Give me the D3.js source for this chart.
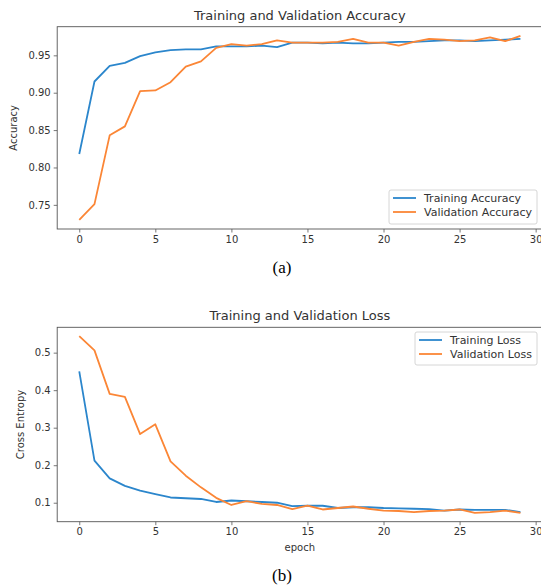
<!DOCTYPE html>
<html>
<head>
<meta charset="utf-8">
<script src="https://cdn.jsdelivr.net/npm/d3@7"></script>
<style>
  body { margin: 0; background: #fff; }
  svg { display: block; }
</style>
</head>
<body>
<div class="graph"></div>
<script>
// epochs 0..29
const epochs = d3.range(0, 30);
const xTicks = [0, 5, 10, 15, 20, 25, 30];

const trainAcc = [0.818, 0.915, 0.936, 0.940, 0.949, 0.954, 0.957, 0.958, 0.958, 0.962,
                  0.962, 0.962, 0.963, 0.961, 0.967, 0.967, 0.966, 0.967, 0.966, 0.966,
                  0.967, 0.968, 0.968, 0.969, 0.970, 0.970, 0.969, 0.970, 0.971, 0.972];
const valAcc   = [0.730, 0.751, 0.843, 0.855, 0.902, 0.903, 0.914, 0.935, 0.942, 0.960,
                  0.965, 0.963, 0.965, 0.970, 0.967, 0.967, 0.967, 0.968, 0.972, 0.967,
                  0.967, 0.963, 0.968, 0.972, 0.971, 0.969, 0.970, 0.974, 0.969, 0.976];
const accTicks = [0.75, 0.80, 0.85, 0.90, 0.95];

const trainLoss = [0.450, 0.212, 0.165, 0.145, 0.132, 0.123, 0.114, 0.112, 0.110, 0.102,
                   0.106, 0.104, 0.102, 0.100, 0.091, 0.092, 0.092, 0.086, 0.088, 0.088,
                   0.086, 0.085, 0.084, 0.083, 0.079, 0.082, 0.081, 0.081, 0.081, 0.075];
const valLoss   = [0.544, 0.506, 0.390, 0.382, 0.283, 0.309, 0.210, 0.172, 0.141, 0.113,
                   0.094, 0.104, 0.097, 0.094, 0.083, 0.092, 0.082, 0.086, 0.090, 0.084,
                   0.079, 0.078, 0.075, 0.078, 0.079, 0.082, 0.073, 0.075, 0.079, 0.073];
const lossTicks = [0.1, 0.2, 0.3, 0.4, 0.5];

const blue = "#2b86cc";
const orange = "#fb8636";
const spineColor = "#555";
const textColor = "#333";

let width = 541;
let height = 587;

let svg = d3.select(".graph")
    .append("svg")
    .attr("width", width)
    .attr("height", height)
    .style("font-family", "'DejaVu Sans', sans-serif");

// matplotlib style auto limits (5% margin)
function padded(lo, hi) {
    let m = (hi - lo) * 0.05;
    return [lo - m, hi + m];
}

function drawPanel(opts) {
    let g = svg.append("g");
    // right spine sits just past the picture's edge, as in the original crop
    let left = 57.2, right = 542.5;

    let x = d3.scaleLinear().domain(padded(0, 29)).range([left, right]);
    let all = opts.series[0].values.concat(opts.series[1].values);
    let y = d3.scaleLinear().domain(padded(d3.min(all), d3.max(all))).range([opts.bottom, opts.top]);

    let xAxis = g.append("g")
        .attr("transform", "translate(0," + opts.bottom + ")")
        .call(d3.axisBottom(x).tickValues(xTicks).tickSize(3.5).tickPadding(3).tickFormat(d3.format("d")));
    xAxis.select(".domain").remove();

    let yAxis = g.append("g")
        .attr("transform", "translate(" + left + ",0)")
        .call(d3.axisLeft(y).tickValues(opts.yTicks).tickSize(3.5).tickPadding(3).tickFormat(opts.yFormat));
    yAxis.select(".domain").remove();

    g.selectAll(".tick line").attr("stroke", spineColor).attr("stroke-width", 0.8);
    g.selectAll(".tick text").attr("fill", textColor).style("font-size", "10px")
        .style("font-family", "'DejaVu Sans', sans-serif");

    // spines
    g.append("rect")
        .attr("x", left).attr("y", opts.top)
        .attr("width", right - left).attr("height", opts.bottom - opts.top)
        .attr("fill", "none").attr("stroke", spineColor).attr("stroke-width", 0.9);

    let line = d3.line()
        .x((d, i) => x(epochs[i]))
        .y(d => y(d));

    g.append("defs").append("clipPath").attr("id", "clip" + opts.id)
        .append("rect").attr("x", left).attr("y", opts.top)
        .attr("width", right - left).attr("height", opts.bottom - opts.top);

    opts.series.forEach(s => {
        g.append("path")
            .datum(s.values)
            .attr("fill", "none")
            .attr("stroke", s.color)
            .attr("stroke-width", 1.8)
            .attr("stroke-linejoin", "round")
            .attr("clip-path", "url(#clip" + opts.id + ")")
            .attr("d", line);
    });

    // title
    g.append("text")
        .attr("x", (left + right) / 2)
        .attr("y", opts.top - 7)
        .attr("text-anchor", "middle")
        .attr("fill", textColor)
        .style("font-size", "13px")
        .text(opts.title);

    // y label
    g.append("text")
        .attr("transform", "translate(" + opts.yLabelX + "," + ((opts.top + opts.bottom) / 2) + ") rotate(-90)")
        .attr("text-anchor", "middle")
        .attr("fill", textColor)
        .style("font-size", "10px")
        .text(opts.yLabel);

    if (opts.xLabel) {
        g.append("text")
            .attr("x", (left + right) / 2)
            .attr("y", opts.bottom + 29)
            .attr("text-anchor", "middle")
            .attr("fill", textColor)
            .style("font-size", "10px")
            .text(opts.xLabel);
    }

    // legend
    let lg = opts.legend;
    g.append("rect")
        .attr("x", lg.x).attr("y", lg.y)
        .attr("width", lg.w).attr("height", lg.h)
        .attr("rx", 2)
        .attr("fill", "#fff").attr("fill-opacity", 0.8)
        .attr("stroke", "#ccc").attr("stroke-width", 0.8);

    opts.series.forEach((s, i) => {
        let ry = lg.y + 8 + i * 14;
        g.append("line")
            .attr("x1", lg.x + 4).attr("x2", lg.x + 27)
            .attr("y1", ry).attr("y2", ry)
            .attr("stroke", s.color).attr("stroke-width", 1.8);
        g.append("text")
            .attr("x", lg.x + 35).attr("y", ry + 4)
            .attr("fill", textColor)
            .style("font-size", "11px")
            .text(s.name);
    });

    // caption
    svg.append("text")
        .attr("x", 282)
        .attr("y", opts.captionY)
        .attr("text-anchor", "middle")
        .attr("fill", "#000")
        .style("font-family", "'Liberation Serif', 'Times New Roman', serif")
        .style("font-size", "17px")
        .text(opts.caption);
}

drawPanel({
    id: "a",
    top: 26.7, bottom: 229,
    series: [
        {name: "Training Accuracy", values: trainAcc, color: blue},
        {name: "Validation Accuracy", values: valAcc, color: orange}
    ],
    yTicks: accTicks,
    yFormat: d3.format(".2f"),
    title: "Training and Validation Accuracy",
    yLabel: "Accuracy",
    yLabelX: 17,
    legend: {x: 389, y: 190, w: 148, h: 34},
    caption: "(a)",
    captionY: 273
});

drawPanel({
    id: "b",
    top: 327.3, bottom: 521.7,
    series: [
        {name: "Training Loss", values: trainLoss, color: blue},
        {name: "Validation Loss", values: valLoss, color: orange}
    ],
    yTicks: lossTicks,
    yFormat: d3.format(".1f"),
    title: "Training and Validation Loss",
    yLabel: "Cross Entropy",
    yLabelX: 24,
    xLabel: "epoch",
    legend: {x: 415, y: 332, w: 122, h: 33},
    caption: "(b)",
    captionY: 581
});
</script>
</body>
</html>
